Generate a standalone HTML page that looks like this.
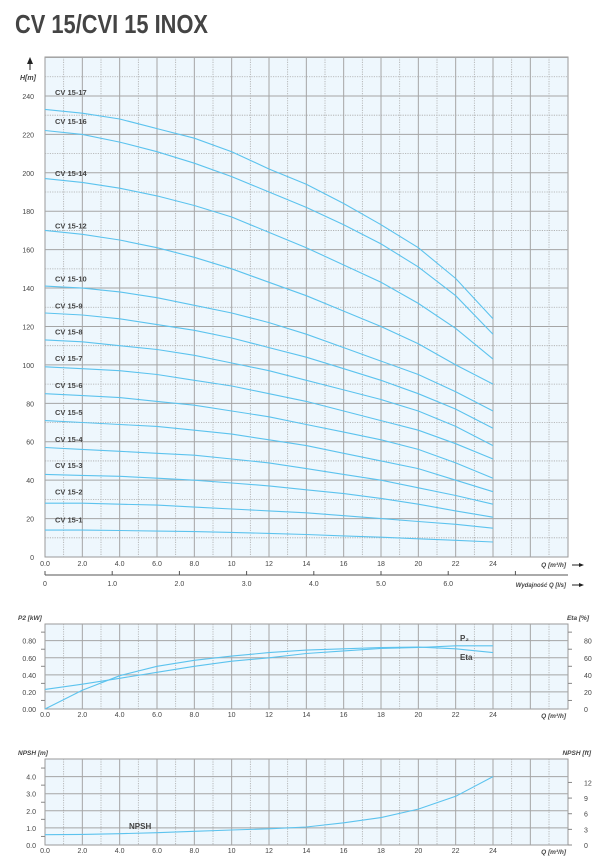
<!DOCTYPE html>
<html><head><meta charset="utf-8"><style>
body{margin:0;background:#fff}
svg{display:block}
text{font-family:"Liberation Sans",sans-serif;fill:#444}
</style></head><body>
<svg id="s" width="604" height="866">
<text x="15" y="33" font-size="26" font-weight="bold" fill="#4a4a4a" textLength="193" lengthAdjust="spacingAndGlyphs">CV 15/CVI 15 INOX</text>
</svg>
<script>
const flows=[0,2,4,6,8,10,12,14,16,18,20,22,24];
const stages=["17","16","14","12","10","9","8","7","6","5","4","3","2","1"];
const h17=[233,231,228,223,218,211,202,194,184,173,161,145,124];
const h16=[222,220,216,211,205,198,190,182,173,163,151,136,116];
const h14=[197,195,192,188,183,177,169,161,152,143,132,119,103];
const h12=[170,168,165,161,156,150,143,136,128,120,111,100,90];
const h10=[141,140,138,135,131,127,122,116,109,102,95,86,76];
const h9=[127,126,124,121,118,114,109,104,98,92,85,77,67];
const h8=[113,112,110,108,105,101,97,92,87,82,76,68,58];
const h7=[99,98,97,95,92,89,85,81,76,71,66,59,51];
const h6=[85,84,83,81,79,76,73,69,65,61,56,49,41];
const h5=[71,70,69,68,66,64,61,58,54,50,46,40,34];
const h4=[57,56,55,54,53,51,49,46,43,40,36,32,27.5];
const h3=[43,42.5,42,41,40,38.5,37,35,33,30.5,27.5,24,20.7];
const h2=[28,28,27.5,27,26,25,24,23,21.5,20,18.5,17,15];
const h1=[14,14,13.8,13.5,13.2,12.8,12.3,11.7,11,10.3,9.5,8.7,7.8];
const labelH=[242,227,200,172.5,145,131,117.5,103.5,89.5,75.5,61.5,48,34,19.5];
const hTicks=[0,20,40,60,80,100,120,140,160,180,200,220,240];
const qTicks=["0.0","2.0","4.0","6.0","8.0","10","12","14","16","18","20","22","24"];
const lsTicks=["0","1.0","2.0","3.0","4.0","5.0","6.0"];
const p2=[0.23,0.29,0.36,0.43,0.50,0.56,0.60,0.65,0.68,0.71,0.72,0.74,0.74];
const eta=[0,22,39,50,57,62,66,69,70.5,72,72.5,70.5,66];
const p2Ticks=["0.00","0.20","0.40","0.60","0.80"];
const etaTicks=["0","20","40","60","80"];
const npsh=[0.6,0.62,0.66,0.72,0.8,0.88,0.95,1.05,1.3,1.6,2.1,2.85,4.0];
const npshTicks=["0.0","1.0","2.0","3.0","4.0"];
const ftTicks=[0,3,6,9,12];
const series=[h17,h16,h14,h12,h10,h9,h8,h7,h6,h5,h4,h3,h2,h1];

const NS="http://www.w3.org/2000/svg",svg=document.getElementById('s');
function el(t,a,p){const e=document.createElementNS(NS,t);for(const k in a)e.setAttribute(k,a[k]);(p||svg).appendChild(e);return e;}
function txt(x,y,s,a){const e=el('text',Object.assign({x:x,y:y,'font-size':7},a||{}));e.textContent=s;return e;}
const L=45,R=568,QS=18.667;
const X=q=>L+q*QS;
const CURVE="#5cc3ee";

function grid(top,bot,yl,name){
  const g=el('g',{});
  
  
  el('rect',{x:L,y:top,width:R-L,height:bot-top,fill:'#eef7fd',stroke:'#9a9a9a','stroke-width':1},g);
  for(let q=1;q<28;q++){
    const x=X(q);
    if(q%2) el('line',{x1:x,x2:x,y1:top,y2:bot,stroke:'#aaa','stroke-width':0.8,'stroke-dasharray':'1.2,1.2'},g);
    else el('line',{x1:x,x2:x,y1:top,y2:bot,stroke:'#a5a5a5','stroke-width':1},g);
  }
  yl.forEach(([y,solid])=>{
    if(solid) el('line',{x1:L,x2:R,y1:y,y2:y,stroke:'#a5a5a5','stroke-width':1},g);
    else el('line',{x1:L,x2:R,y1:y,y2:y,stroke:'#aaa','stroke-width':0.8,'stroke-dasharray':'1.2,1.2'},g);
  });
}
function path(ys,Y,name){
  const d=flows.map((q,i)=>(i?'L':'M')+X(q).toFixed(1)+','+Y(ys[i]).toFixed(1)).join(' ');
  const p=el('path',{d:d,fill:'none',stroke:CURVE,'stroke-width':1.1});
  
  
}
function qAxis(y){
  qTicks.forEach((t,i)=>{const e=txt(X(flows[i]),y,t,{'text-anchor':'middle','font-size':7});
  
  });
}
function qTitle(y,name){
  const t=txt(566,y,'Q [m³/h]',{'text-anchor':'end','font-size':6.5,'font-style':'italic','font-weight':'bold',fill:'#222'});
  
  
}

/* main chart */
const HY=h=>557-h*1.921;
const ml=[];
for(let h=10;h<=260;h+=10) ml.push([HY(h),h%20===0]);
grid(57,557,ml,'head');
hTicks.forEach(h=>{const e=txt(34,HY(h)+3,String(h),{'text-anchor':'end','font-size':7});

});
el('line',{x1:30,x2:30,y1:61,y2:70,stroke:'#222','stroke-width':1});
el('path',{d:'M27,64 L30,57 L33,64 Z',fill:'#222'});
let t=txt(20,80,'H[m]',{'font-size':7,'font-style':'italic','font-weight':'bold'});


series.forEach((s,i)=>{
  path(s,HY,'curve-cv15-'+stages[i]);
  const e=txt(55,HY(labelH[i])+3,'CV 15-'+stages[i],{'font-size':7.5,'font-weight':'bold',fill:'#222'});
  
  
});
qAxis(566);
qTitle(567,'x-axis-title');
el('line',{x1:572,x2:580,y1:565,y2:565,stroke:'#222'});el('path',{d:'M579,563 L584,565 L579,567Z',fill:'#222'});
/* l/s axis */
el('line',{x1:L,x2:R,y1:575,y2:575,stroke:'#555','stroke-width':1});
lsTicks.forEach((s,i)=>{const x=L+i*3.6*QS;el('line',{x1:x,x2:x,y1:571,y2:575,stroke:'#555'});
const e=txt(x,586,s,{'text-anchor':'middle','font-size':7});

});
el('line',{x1:L+7*3.6*QS,x2:L+7*3.6*QS,y1:571,y2:575,stroke:'#555'});
t=txt(566,587,'Wydajność Q [l/s]',{'text-anchor':'end','font-size':6,'font-style':'italic','font-weight':'bold',fill:'#222'});


el('line',{x1:572,x2:580,y1:585,y2:585,stroke:'#222'});el('path',{d:'M579,583 L584,585 L579,587Z',fill:'#222'});

/* P2 / Eta chart */
const PY=v=>709-v*85.4;
const EY=v=>709-v*0.854;
const pl=[];
for(let v=0.2;v<0.9;v+=0.2) pl.push([PY(v),true]);
grid(624,709,pl,'power');
p2Ticks.forEach((s,i)=>{const e=txt(36,PY(i*0.2)+3,s,{'text-anchor':'end','font-size':7});


el('line',{x1:41,x2:45,y1:PY(i*0.2+0.1),y2:PY(i*0.2+0.1),stroke:'#888'});
const f=txt(584,PY(i*0.2)+3,etaTicks[i],{'font-size':7});


el('line',{x1:568,x2:572,y1:PY(i*0.2+0.1),y2:PY(i*0.2+0.1),stroke:'#888'});});
path(p2,PY,'p2-curve');
path(eta,EY,'eta-curve');
t=txt(460,641,'P₂',{'font-size':8,'font-weight':'bold',fill:'#222'});
t=txt(460,660,'Eta',{'font-size':8,'font-weight':'bold',fill:'#222'});
t=txt(18,620,'P2 [kW]',{'font-size':6.5,'font-style':'italic','font-weight':'bold'});
t=txt(589,620,'Eta [%]',{'text-anchor':'end','font-size':6.5,'font-style':'italic','font-weight':'bold'});
qAxis(717);
qTitle(718,'p2-x-axis-title');

/* NPSH chart */
const NY=v=>845-v*17.1;
const FY=v=>845-v/3.28*17.1;
const nl=[];
for(let v=1;v<=4;v++) nl.push([NY(v),true]);
grid(759,845,nl,'npsh');
npshTicks.forEach((s,i)=>{const e=txt(36,NY(i)+3,s,{'text-anchor':'end','font-size':7});


el('line',{x1:41,x2:45,y1:NY(i+0.5),y2:NY(i+0.5),stroke:'#888'});});
ftTicks.forEach(v=>{const e=txt(584,FY(v)+3,String(v),{'font-size':7});


el('line',{x1:568,x2:572,y1:FY(v),y2:FY(v),stroke:'#888'});});
path(npsh,NY,'npsh-curve');
t=txt(129,829,'NPSH',{'font-size':8,'font-weight':'bold',fill:'#222'});
t=txt(18,755,'NPSH [m]',{'font-size':6.5,'font-style':'italic','font-weight':'bold'});
t=txt(591,755,'NPSH [ft]',{'text-anchor':'end','font-size':6.5,'font-style':'italic','font-weight':'bold'});
qAxis(853);
qTitle(854,'npsh-x-axis-title');
</script>
</body></html>
